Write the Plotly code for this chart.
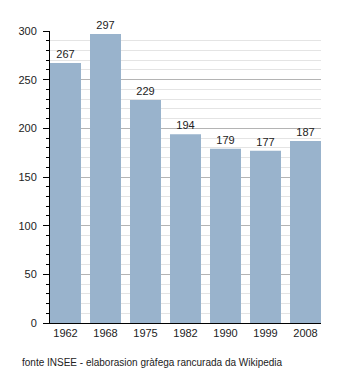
import plotly.graph_objects as go

years = ["1962", "1968", "1975", "1982", "1990", "1999", "2008"]
population = [267, 297, 229, 194, 179, 177, 187]
source_text = "fonte INSEE - elaborasion gràfega rancurada da Wikipedia"

font_family = "Liberation Sans, Arial, sans-serif"

fig = go.Figure(go.Bar(
    x=years, y=population,
    marker=dict(color="rgb(153,179,204)", line=dict(width=0)),
    text=[str(v) for v in population],
    textposition="outside",
    textfont=dict(size=11, color="#222", family=font_family),
    cliponaxis=False,
    hoverinfo="skip",
))

fig.update_layout(
    width=350, height=373,
    margin=dict(l=50, r=29, t=31, b=50),
    plot_bgcolor="white", paper_bgcolor="white",
    bargap=0.225,
    showlegend=False,
    font=dict(family=font_family, size=11, color="#222"),
    xaxis=dict(
        type="category",
        range=[-0.3875, 6.3875],
        showline=True, linecolor="black", linewidth=1,
        ticks="", showgrid=False,
        tickfont=dict(size=11, color="#222"),
        fixedrange=True,
    ),
    yaxis=dict(
        range=[0, 300],
        tickmode="linear", tick0=0, dtick=50,
        showline=True, linecolor="black", linewidth=1,
        ticks="outside", ticklen=6, tickcolor="black", tickwidth=1,
        showgrid=True, gridcolor="#b4b4b4", gridwidth=1,
        zeroline=False,
        minor=dict(dtick=10, tick0=0, ticks="outside", ticklen=3,
                   tickcolor="black", showgrid=True, gridcolor="#e4e4e4",
                   gridwidth=1),
        tickfont=dict(size=11, color="#222"),
        ticklabelstandoff=4,
        fixedrange=True,
    ),
    annotations=[dict(
        text=source_text, xref="paper", yref="paper",
        x=-0.112, y=-0.109, xanchor="left", yanchor="top",
        showarrow=False, font=dict(size=10, color="#222", family=font_family),
    )],
)

fig.write_html("out.html")
